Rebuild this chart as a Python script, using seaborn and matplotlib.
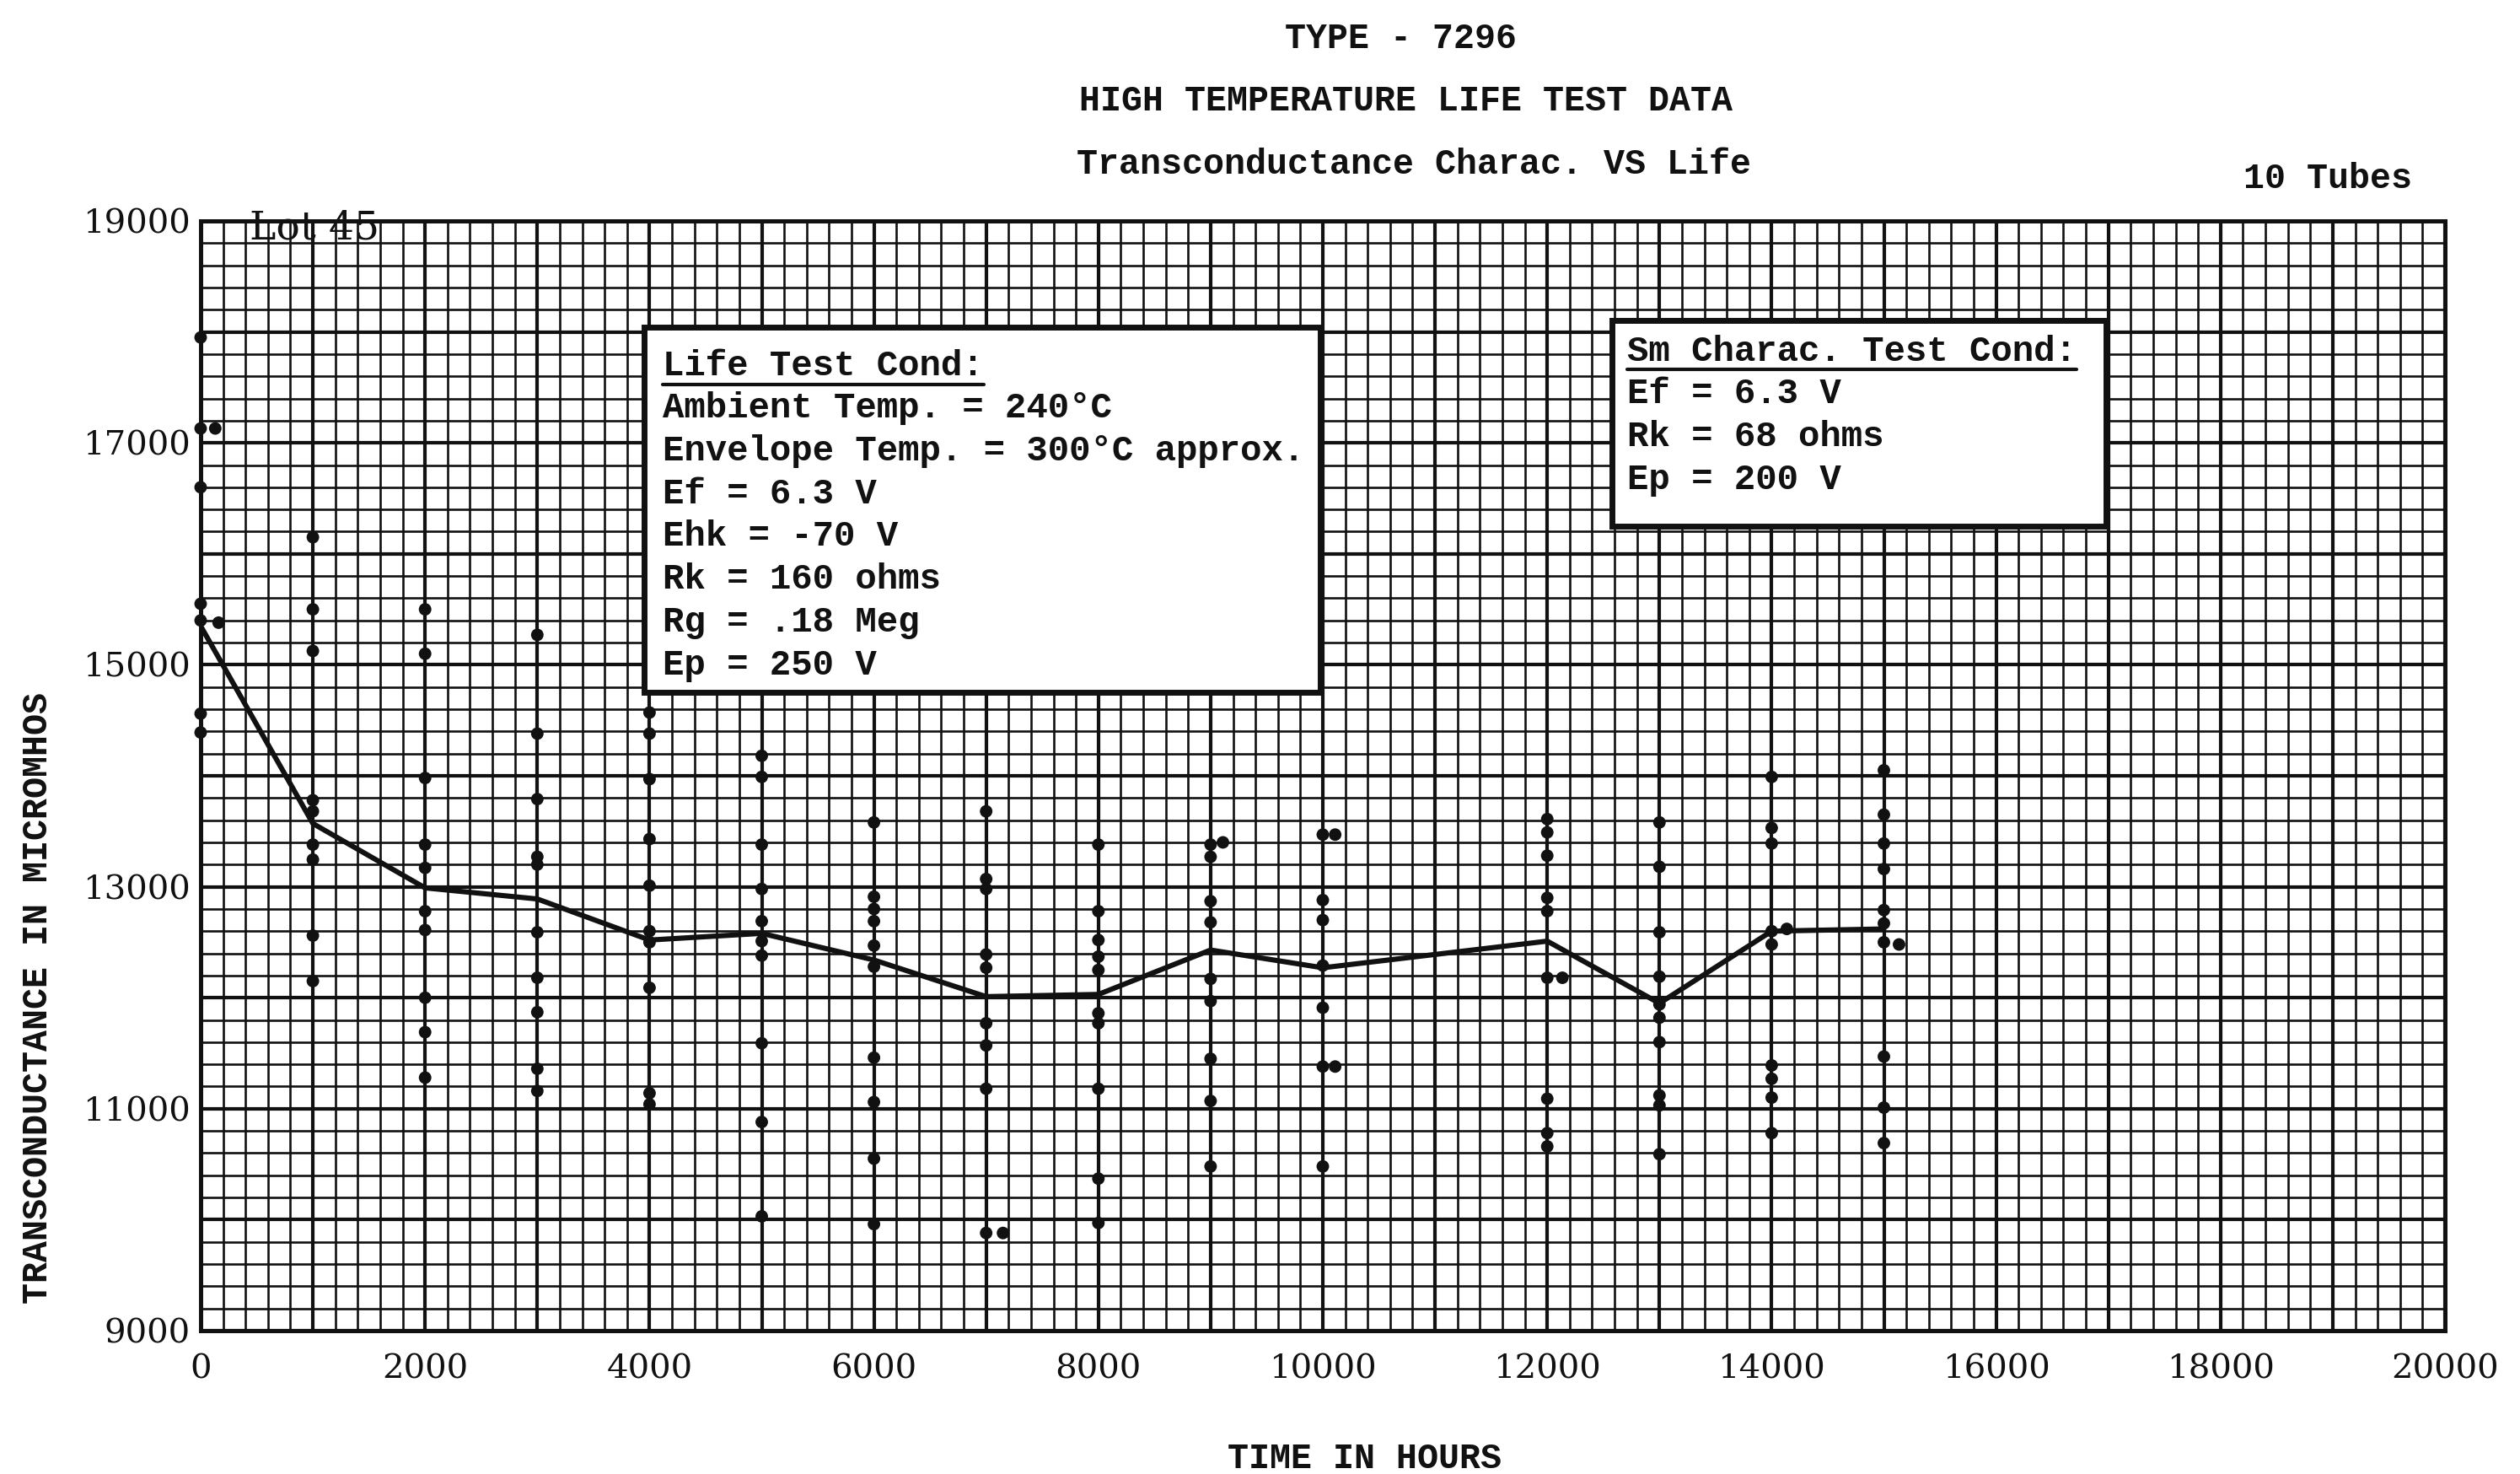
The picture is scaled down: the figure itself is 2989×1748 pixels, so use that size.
import matplotlib
matplotlib.use("Agg")
import matplotlib.pyplot as plt
import seaborn as sns
import pandas as pd
from matplotlib.ticker import MultipleLocator, FuncFormatter
from matplotlib.patches import Rectangle
from matplotlib.lines import Line2D

# ---------------- data ----------------
sample_hours = [0, 1000, 2000, 3000, 4000, 5000, 6000, 7000, 8000, 9000, 10000,
                12000, 13000, 14000, 15000]
avg_gm = [15350, 13570, 12990, 12890, 12520, 12580, 12340, 12010, 12030, 12430,
          12270, 12510, 11950, 12600, 12620]

gm_0h = [17950, 17130, 16600, 15550, 15400, 14560, 14390]
gm_1000h = [16150, 15500, 15125, 13780, 13680, 13380, 13245, 12560, 12150]
gm_2000h = [15500, 15100, 13980, 13380, 13170, 12780, 12610, 12000, 11690, 11280]
gm_3000h = [15270, 14380, 13790, 13270, 13200, 12590, 12180, 11870, 11360, 11160]
gm_4000h = [14570, 14380, 13970, 13430, 13010, 12600, 12500, 12090, 11140, 11040]
gm_5000h = [14180, 13990, 13380, 12980, 12690, 12510, 12380, 11590, 10880, 10030]
gm_6000h = [13580, 12910, 12800, 12690, 12470, 12280, 11460, 11060, 10550, 9960]
gm_7000h = [13680, 13070, 12980, 12390, 12270, 11770, 11570, 11180, 9880]
gm_8000h = [13380, 12780, 12520, 12370, 12250, 11860, 11770, 11180, 10370, 9970]
gm_9000h = [13380, 13270, 12870, 12680, 12170, 11970, 11450, 11070, 10480]
gm_10000h = [13470, 12880, 12700, 12290, 11910, 11380, 10480]
gm_12000h = [13610, 13490, 13280, 12900, 12780, 12180, 11090, 10780, 10660]
gm_13000h = [13580, 13180, 12590, 12190, 11940, 11820, 11600, 11120, 11030, 10590]
gm_14000h = [13990, 13530, 13390, 12600, 12480, 11390, 11270, 11100, 10780]
gm_15000h = [14050, 13650, 13390, 13160, 12790, 12670, 12500, 11470, 11010, 10690]

# dots plotted just beside their column (coincident readings)
side_hours = [130, 160, 7150, 9110, 10110, 10110, 12135, 14135, 15135]
side_gm = [17130, 15380, 9880, 13400, 13470, 11380, 12180, 12620, 12480]

x_tick_labels = ["0", "2000", "4000", "6000", "8000", "10000", "12000", "14000",
                 "16000", "18000", "20000"]
y_tick_labels = ["9000", "11000", "13000", "15000", "17000", "19000"]

life_cond_lines = ["Ambient Temp. = 240°C", "Envelope Temp. = 300°C approx.",
                   "Ef = 6.3 V", "Ehk = -70 V", "Rk = 160 ohms", "Rg = .18 Meg",
                   "Ep = 250 V"]
sm_cond_lines = ["Ef = 6.3 V", "Rk = 68 ohms", "Ep = 200 V"]

# ---------------- build tables ----------------
column_sets = [gm_0h, gm_1000h, gm_2000h, gm_3000h, gm_4000h, gm_5000h, gm_6000h,
               gm_7000h, gm_8000h, gm_9000h, gm_10000h, gm_12000h, gm_13000h,
               gm_14000h, gm_15000h]
pts_h, pts_v = [], []
for h, vals in zip(sample_hours, column_sets):
    pts_h += [h] * len(vals)
    pts_v += list(vals)
pts_h += side_hours
pts_v += side_gm
points = pd.DataFrame({"hours": pts_h, "gm": pts_v})
avg = pd.DataFrame({"hours": sample_hours, "gm": avg_gm})

# ---------------- figure ----------------
sns.set_theme(style="white")
plt.rcParams["font.family"] = ["DejaVu Serif", "DejaVu Sans"]

W, H = 2989, 1748
fig = plt.figure(figsize=(W / 100, H / 100), dpi=100)
ax = fig.add_axes([238 / W, 1 - 1578 / H, (2900 - 238) / W, (1578 - 262) / H])

ink = "#111111"
sns.scatterplot(data=points, x="hours", y="gm", ax=ax, color=ink, s=115,
                edgecolor="none", linewidth=0, zorder=5, clip_on=False,
                legend=False)
sns.lineplot(data=avg, x="hours", y="gm", ax=ax, color=ink, lw=4.4, sort=False,
             zorder=5, estimator=None)

ax.set_xlim(0, 20000)
ax.set_ylim(9000, 19000)

# graph-paper grid
ax.xaxis.set_major_locator(MultipleLocator(1000))
ax.xaxis.set_minor_locator(MultipleLocator(200))
ax.yaxis.set_major_locator(MultipleLocator(1000))
ax.yaxis.set_minor_locator(MultipleLocator(200))
ax.xaxis.set_major_formatter(FuncFormatter(
    lambda v, p: x_tick_labels[int(round(v)) // 2000] if int(round(v)) % 2000 == 0 else ""))
ax.yaxis.set_major_formatter(FuncFormatter(
    lambda v, p: y_tick_labels[(int(round(v)) - 9000) // 2000]
    if (int(round(v)) - 9000) % 2000 == 0 else ""))
ax.grid(True, which="major", color=ink, lw=3.0)
ax.grid(True, which="minor", color=ink, lw=1.9)
ax.set_axisbelow(True)
ax.tick_params(which="both", length=0)
ax.tick_params(axis="x", pad=20, labelsize=29, labelcolor=ink)
ax.tick_params(axis="y", pad=9, labelsize=29, labelcolor=ink)
for sp in ax.spines.values():
    sp.set_visible(True)
    sp.set_color(ink)
    sp.set_linewidth(3.6)

ax.set_xlabel("")
ax.set_ylabel("")

mono = ["Liberation Mono", "DejaVu Sans Mono"]

# condition boxes
ax.add_patch(Rectangle((3950, 14750), 9980 - 3950, 18040 - 14750, facecolor="white",
                       edgecolor=ink, lw=5, zorder=6))
ax.add_patch(Rectangle((12580, 16250), 16980 - 12580, 18100 - 16250, facecolor="white",
                       edgecolor=ink, lw=5, zorder=6))


def ftext(x, y, s, **kw):
    return fig.text(x / W, 1 - y / H, s, **kw)


box_kw = dict(family=mono, fontsize=30.5, fontweight="bold", color=ink, va="baseline",
              ha="left", zorder=7)
h1 = ftext(786, 445, "Life Test Cond:", **box_kw)
for i, line in enumerate(life_cond_lines):
    ftext(786, 495 + i * 50.8, line, **box_kw)
h2 = ftext(1930, 428, "Sm Charac. Test Cond:", **box_kw)
for i, line in enumerate(sm_cond_lines):
    ftext(1930, 478 + i * 51, line, **box_kw)

# titles and labels
title_kw = dict(family=mono, fontsize=30, fontweight="bold", color=ink,
                ha="center", va="center")
ftext(1662, 46, "TYPE - 7296", **title_kw)
ftext(1668, 120, "HIGH TEMPERATURE LIFE TEST DATA", **title_kw)
ftext(1677, 195, "Transconductance Charac. VS Life", **title_kw)
ftext(2761, 212, "10 Tubes", **title_kw)
ftext(1618, 1730, "TIME IN HOURS", **title_kw)
ftext(45, 1183, "TRANSCONDUCTANCE IN MICROMHOS", rotation=90, **title_kw)
ftext(296, 283, "Lot 45", family=["DejaVu Serif"], fontsize=34, color=ink,
      ha="left", va="baseline")

# underline the box headers
fig.canvas.draw()
r = fig.canvas.get_renderer()
for t, uy in ((h1, 456), (h2, 438)):
    bb = t.get_window_extent(r)
    fig.add_artist(Line2D([bb.x0 / W, bb.x1 / W], [1 - uy / H, 1 - uy / H],
                          transform=fig.transFigure, color=ink, lw=3, zorder=8))

fig.savefig("out.png", dpi=100, facecolor="white")
